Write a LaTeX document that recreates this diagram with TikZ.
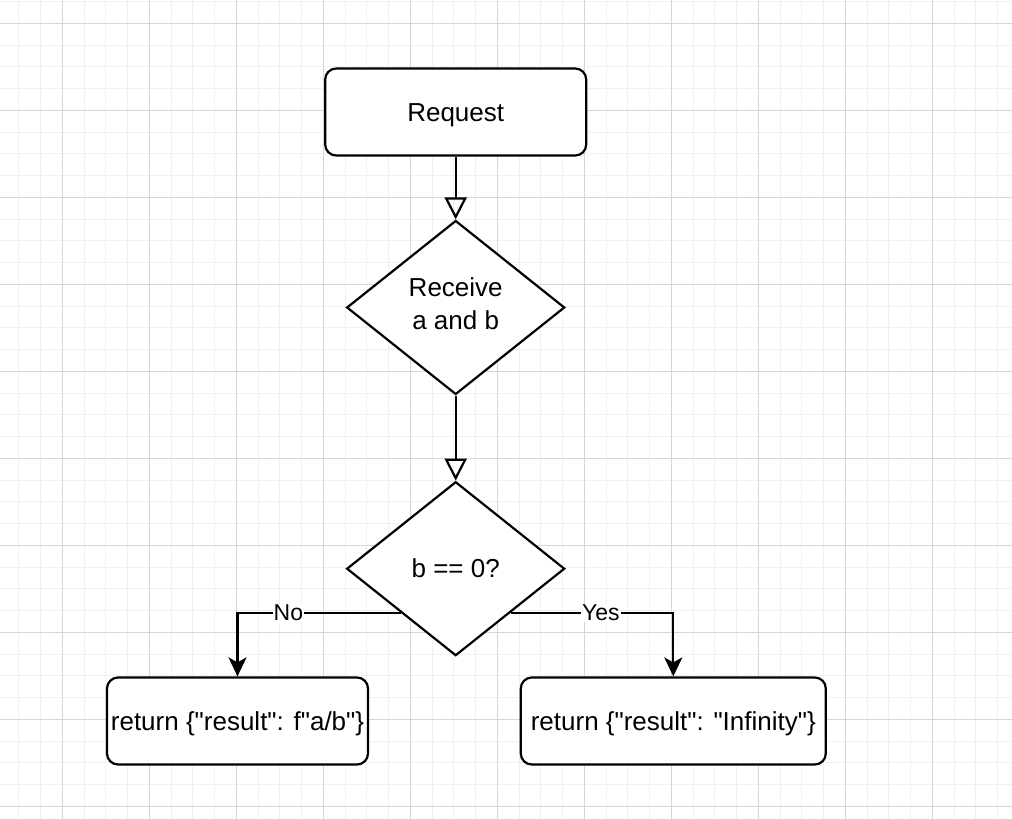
\documentclass[tikz,border=0pt]{standalone}
\usepackage{fontspec}
\setmainfont{Liberation Sans}[Ligatures=TeXOff]
\usetikzlibrary{shapes.geometric,arrows.meta}
\begin{document}
\begin{tikzpicture}[x=1pt,y=-1pt,
  every node/.style={font=\fontsize{26}{33}\selectfont, text=black},
  rbox/.style={draw=black, rounded corners=11pt, fill=white, line width=2.2pt, minimum height=87pt, inner sep=0pt, text height=18.6pt, text depth=0pt},
  dia/.style={draw=black, diamond, fill=white, line width=2.2pt, minimum width=218pt, minimum height=174pt, inner sep=0pt, aspect=1.25, align=center},
  flow/.style={line width=2.2pt, -{Triangle[open,length=22pt,width=22pt]}},
  branch/.style={line width=2.2pt, -{Stealth[length=19pt,width=18pt,inset=5pt]}},
  lbl/.style={fill=white, inner sep=1pt, font=\fontsize{23}{26}\selectfont},
  minorgrid/.style={line width=1pt, draw=black!6},
  majorgrid/.style={line width=1pt, draw=black!16}]
\useasboundingbox (0,0) rectangle (1012,819);
\fill[white] (0,0) rectangle (1012,819);
% grid
\foreach \i in {-2,...,43} \draw[minorgrid] ({62.3+21.75*\i},0) -- ({62.3+21.75*\i},819);
\foreach \i in {-1,...,36} \draw[minorgrid] (0,{23.3+21.75*\i}) -- (1012,{23.3+21.75*\i});
\foreach \j in {0,...,10} \draw[majorgrid] ({62.3+87*\j},0) -- ({62.3+87*\j},819);
\foreach \j in {0,...,9} \draw[majorgrid] (0,{23.3+87*\j}) -- (1012,{23.3+87*\j});
% nodes
\node[rbox, minimum width=261pt] (req) at (455.7,112) {Request};
\node[dia, label={[align=center, yshift=4pt, inner sep=0pt]center:{Receive\\a and b}}] (d1) at (455.7,307.5) {};
\node[dia] (d2) at (455.7,568.7) {b == 0?};
\node[rbox, minimum width=261pt] (lb) at (237.5,721) {return \{"result": f"a/b"\}};
\node[rbox, minimum width=305pt] (rb) at (673.3,721) {return \{"result": "Infinity"\}};
% connectors
\draw[flow] (req.south) -- (d1.north);
\draw[flow] (d1.south) -- (d2.north);
\draw[branch] (d2.south west) -| node[lbl,pos=0.344]{No} (lb.north);
\draw[branch] (d2.south east) -| node[lbl,pos=0.277]{Yes} (rb.north);
\end{tikzpicture}
\end{document}
